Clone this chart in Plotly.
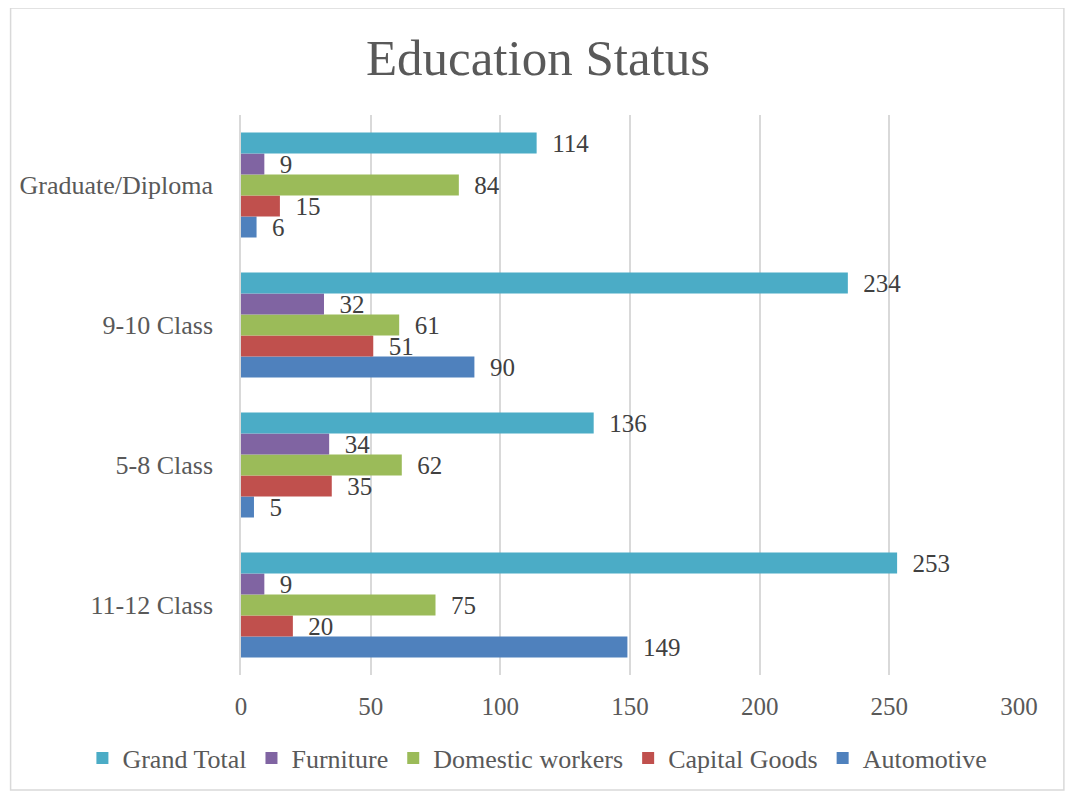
import plotly.graph_objects as go

categories = ["11-12 Class", "5-8 Class", "9-10 Class", "Graduate/Diploma"]
automotive = [149, 5, 90, 6]
capital_goods = [20, 35, 51, 15]
domestic_workers = [75, 62, 61, 84]
furniture = [9, 34, 32, 9]
grand_total = [253, 136, 234, 114]

series = [
    ("Automotive", automotive, "#4F81BD"),
    ("Capital Goods", capital_goods, "#C0504D"),
    ("Domestic workers", domestic_workers, "#9BBB59"),
    ("Furniture", furniture, "#8064A2"),
    ("Grand Total", grand_total, "#4BACC6"),
]

FONT = "Liberation Serif"
FS = 25
fig = go.Figure()
for name, vals, col in series:
    fig.add_trace(go.Bar(
        y=categories, x=vals, name=name, orientation="h",
        marker=dict(color=col, line=dict(width=0)),
        texttemplate="\u00a0\u00a0%{x}", textposition="outside", cliponaxis=False,
        constraintext="none",
        textfont=dict(family=FONT, size=FS, color="#404040"),
    ))

# browser body margin offsets the figure by 8px
OFF = 8
W, H = 1075, 793
l, t = 239 - OFF, 115 - OFF
r = W - (1019 - OFF)
b = H - (675 - OFF)
pw, ph = W - l - r, H - t - b

def px(x):
    return (x - l) / pw

def py(y):
    return (H - b - y) / ph

fig.update_layout(
    width=W, height=H,
    margin=dict(l=l, r=r, t=t, b=b),
    paper_bgcolor="white", plot_bgcolor="white",
    barmode="group", bargap=0.25, bargroupgap=0,
    font=dict(family=FONT, color="#595959"),
    title=dict(text="Education Status", x=(538 - OFF) / W, xanchor="center",
               xref="container",
               y=1 - (57 - OFF) / H, yanchor="middle",
               font=dict(family=FONT, size=51, color="#595959")),
    xaxis=dict(range=[0, 300], dtick=50, showgrid=True, gridcolor="#D9D9D9",
               gridwidth=1.5, zeroline=False, showline=False,
               tickfont=dict(family=FONT, size=FS, color="#595959"),
               ticks="", ticklabelstandoff=14),
    yaxis=dict(showgrid=False, showline=True, linecolor="#D9D9D9", linewidth=1.5,
               ticks="", tickfont=dict(family=FONT, size=26, color="#595959"),
               ticklabelstandoff=21),
    legend=dict(orientation="h", x=px(80 - OFF), xanchor="left", xref="paper",
                y=py(758 - OFF), yanchor="middle", yref="paper",
                traceorder="reversed",
                font=dict(family=FONT, size=26, color="#595959"),
                itemwidth=30, bgcolor="rgba(0,0,0,0)"),
    showlegend=True,
    shapes=[dict(type="rect", xref="paper", yref="paper",
                 x0=px(0), x1=px(1064 - OFF), y0=py(790 - OFF), y1=py(0),
                 line=dict(color="#D9D9D9", width=1.5), fillcolor="rgba(0,0,0,0)",
                 layer="below")],
)

fig.write_html("out.html")
